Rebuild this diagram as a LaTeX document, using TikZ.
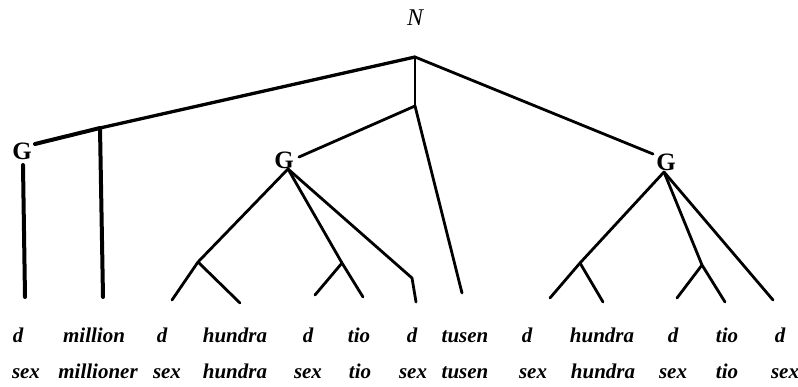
\documentclass[tikz,border=0pt]{standalone}
\usepackage{fontspec}
\setmainfont{Liberation Serif}
\begin{document}
\begin{tikzpicture}[x=1pt,y=-1pt,
  edge/.style={line width=2.8pt,line cap=round,line join=round},
  heavy/.style={line width=4pt,line cap=round,line join=round},
  word/.style={font=\fontsize{21}{21}\selectfont\itshape\bfseries,inner sep=0pt,anchor=base},
  cat/.style={font=\fontsize{25}{25}\selectfont\bfseries,inner sep=0pt},
  root/.style={font=\fontsize{24}{24}\selectfont\itshape,inner sep=0pt}]
\useasboundingbox (0,0) rectangle (798,386);

% category labels
\node[root] (N) at (415,18) {N};
\node[cat] (gL) at (22,151) {G};
\node[cat] (gM) at (284,160) {G};
\node[cat] (gR) at (666,162) {G};

% branching points
\coordinate (top) at (415,57);
\coordinate (jN) at (415,106);
\coordinate (jL) at (100,128);
\coordinate (gLin) at (35,144);
\coordinate (gLout) at (23,165);
\coordinate (gMin) at (299,157);
\coordinate (gMout) at (288,169);
\coordinate (gRin) at (653,154);
\coordinate (gRout) at (664,172);
\coordinate (jM1) at (198,262);
\coordinate (jM2) at (342,263);
\coordinate (kM) at (412,278);
\coordinate (jR1) at (580,263);
\coordinate (jR2) at (702,265);

% leaf ends
\coordinate (e1) at (25,297);
\coordinate (e2) at (103,297);
\coordinate (e3) at (172,300);
\coordinate (e4) at (240,303);
\coordinate (e5) at (315,295);
\coordinate (e6) at (363,297);
\coordinate (e7) at (416,302);
\coordinate (e8) at (462,293);
\coordinate (e9) at (550,298);
\coordinate (e10) at (603,302);
\coordinate (e11) at (677,298);
\coordinate (e12) at (725,302);
\coordinate (e13) at (773,300);

% left group
\draw[heavy] (gLin) -- (jL);
\draw[line width=3.3pt,line cap=round] (jL) -- (top);
\draw[heavy] (jL) -- (e2);
\draw[heavy] (gLout) -- (e1);

% spine
\draw[edge] (top) -- (jN);
\draw[edge] (jN) -- (gMin);
\draw[edge] (jN) -- (e8);
\draw[edge] (top) -- (gRin);

% middle G
\draw[edge] (gMout) -- (jM1) -- (e3);
\draw[edge] (jM1) -- (e4);
\draw[edge] (gMout) -- (jM2) -- (e6);
\draw[edge] (jM2) -- (e5);
\draw[edge] (gMout) -- (kM) -- (e7);

% right G
\draw[edge] (gRout) -- (jR1) -- (e9);
\draw[edge] (jR1) -- (e10);
\draw[edge] (gRout) -- (jR2) -- (e12);
\draw[edge] (jR2) -- (e11);
\draw[edge] (gRout) -- (e13);

% first row of words
\node[word] (a1) at (18,342) {d};
\node[word] (a2) at (94,342) {million};
\node[word] (a3) at (162,342) {d};
\node[word] (a4) at (235,342) {hundra};
\node[word] (a5) at (308,342) {d};
\node[word] (a6) at (359,342) {tio};
\node[word] (a7) at (412,342) {d};
\node[word] (a8) at (465,342) {tusen};
\node[word] (a9) at (527,342) {d};
\node[word] (a10) at (602,342) {hundra};
\node[word] (a11) at (673,342) {d};
\node[word] (a12) at (727,342) {tio};
\node[word] (a13) at (780,342) {d};

% second row of words
\node[word] (b1) at (26,378) {sex};
\node[word] (b2) at (98,378) {millioner};
\node[word] (b3) at (167,378) {sex};
\node[word] (b4) at (235,378) {hundra};
\node[word] (b5) at (308,378) {sex};
\node[word] (b6) at (360,378) {tio};
\node[word] (b7) at (413,378) {sex};
\node[word] (b8) at (465,378) {tusen};
\node[word] (b9) at (533,378) {sex};
\node[word] (b10) at (603,378) {hundra};
\node[word] (b11) at (673,378) {sex};
\node[word] (b12) at (727,378) {tio};
\node[word] (b13) at (785,378) {sex};
\end{tikzpicture}
\end{document}
